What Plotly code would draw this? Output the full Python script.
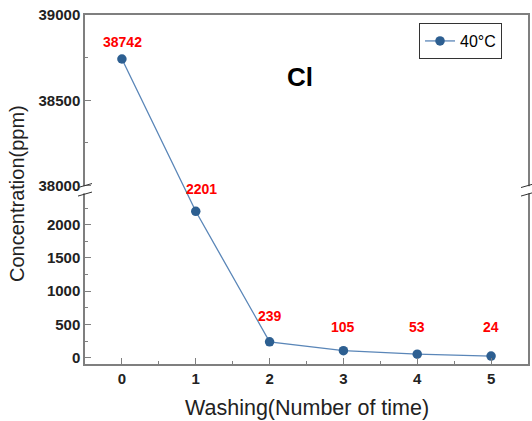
import plotly.graph_objects as go

# ---- data ----
washing = [0, 1, 2, 3, 4, 5]
conc_40c = [38742, 2201, 239, 105, 53, 24]
series_name = "40°C"
x_ticks = [0, 1, 2, 3, 4, 5]
y_low_ticks = [0, 500, 1000, 1500, 2000]
y_low_minor = [250, 750, 1250, 1750, 2250]
y_up_ticks = [38000, 38500, 39000]
y_up_minor = [38250, 38750]

# ---- broken-axis scale (lower segment in data units, upper segment compressed) ----
LOW_MIN, LOW_MAX = -95, 2460
UP_MIN, UP_MAX = 38000, 39000
GAP = 128
K = 2.564


def tr(v):
    return v if v <= LOW_MAX else LOW_MAX + GAP + (v - UP_MIN) * K


Y_TOP = tr(UP_MAX)
BREAK_LO, BREAK_HI = LOW_MAX, tr(UP_MIN)

# label offsets (style)
label_yshift = [17, 22, 26, 24, 27, 29]
label_xshift = [1, 6, 0, 0, 0, 0]

AX = "#7f7f7f"
fig = go.Figure()
fig.add_trace(go.Scatter(
    x=washing, y=[tr(v) for v in conc_40c], customdata=conc_40c,
    mode="lines+markers", name=series_name,
    line=dict(color="#5a86b8", width=1.3),
    marker=dict(color="#2d5f91", size=9.5),
    hovertemplate="%{x}: %{customdata}<extra></extra>",
))

ann = []
for i, (xv, v) in enumerate(zip(washing, conc_40c)):
    ann.append(dict(x=xv, y=tr(v), xref="x", yref="y", text=str(v), showarrow=False,
                    xanchor="center", yanchor="middle",
                    yshift=label_yshift[i], xshift=label_xshift[i],
                    font=dict(family="Liberation Sans", size=14, color="#ff0000", weight="bold")))
ann.append(dict(x=0.485, y=0.822, xref="paper", yref="paper", text="Cl", showarrow=False,
                xanchor="center", yanchor="middle",
                font=dict(family="Liberation Sans", size=26, color="black", weight="bold")))
ann.append(dict(x=0.501, y=-0.126, xref="paper", yref="paper", text="Washing(Number of time)",
                showarrow=False, xanchor="center", yanchor="middle",
                font=dict(family="Liberation Sans", size=21.5, color="#222")))
ann.append(dict(x=-0.1535, y=0.49, xref="paper", yref="paper", text="Concentration(ppm)",
                showarrow=False, textangle=-90, xanchor="center", yanchor="middle",
                font=dict(family="Liberation Sans", size=20, color="#222")))

shapes = []
for px in (0, 1):
    shapes.append(dict(type="rect", xref="paper", yref="y", xsizemode="pixel", xanchor=px,
                       x0=-3, x1=3, y0=BREAK_LO + 10, y1=BREAK_HI - 10,
                       fillcolor="white", line=dict(width=0), layer="above"))
    for yb in (BREAK_LO, BREAK_HI):
        shapes.append(dict(type="line", xref="paper", yref="y", xsizemode="pixel", ysizemode="pixel",
                           xanchor=px, yanchor=yb, x0=-7, x1=7, y0=-2, y1=2,
                           line=dict(color="#333", width=1), layer="above"))

fig.update_layout(
    width=532, height=421,
    margin=dict(l=85, r=4, t=15, b=57),
    paper_bgcolor="white", plot_bgcolor="white",
    showlegend=True,
    legend=dict(x=0.754, y=0.977, xanchor="left", yanchor="top",
                bordercolor="#333", borderwidth=1, bgcolor="white",
                font=dict(family="Liberation Sans", size=16, color="black"),
                itemwidth=30),
    annotations=ann, shapes=shapes,
)
fig.update_xaxes(range=[-0.5, 5.5], tickvals=x_ticks, showgrid=False, zeroline=False,
                 automargin=False,
                 showline=True, linecolor=AX, linewidth=1.5, mirror=True,
                 ticks="inside", ticklen=6, tickwidth=1.2, tickcolor=AX,
                 minor=dict(tickvals=[t + 0.5 for t in x_ticks[:-1]], ticks="inside", ticklen=3, tickcolor=AX),
                 tickfont=dict(family="Liberation Sans", size=15, color="#222", weight="bold"))
fig.update_yaxes(range=[LOW_MIN, Y_TOP], showgrid=False, zeroline=False,
                 automargin=False,
                 tickvals=y_low_ticks + [tr(v) for v in y_up_ticks],
                 ticktext=[str(v) for v in y_low_ticks + y_up_ticks],
                 showline=True, linecolor=AX, linewidth=1.5, mirror=True,
                 ticks="inside", ticklen=6, tickwidth=1.2, tickcolor=AX,
                 minor=dict(tickvals=y_low_minor + [tr(v) for v in y_up_minor], ticks="inside", ticklen=3, tickcolor=AX),
                 tickfont=dict(family="Liberation Sans", size=15, color="#222", weight="bold"))

fig.write_html("out.html", config={"displayModeBar": False})

# remove the browser's default page margin so the figure sits at the window origin
with open("out.html", encoding="utf-8") as f:
    html = f.read()
html = html.replace("<head>", "<head><style>html,body{margin:0;padding:0;}</style>", 1)
with open("out.html", "w", encoding="utf-8") as f:
    f.write(html)
